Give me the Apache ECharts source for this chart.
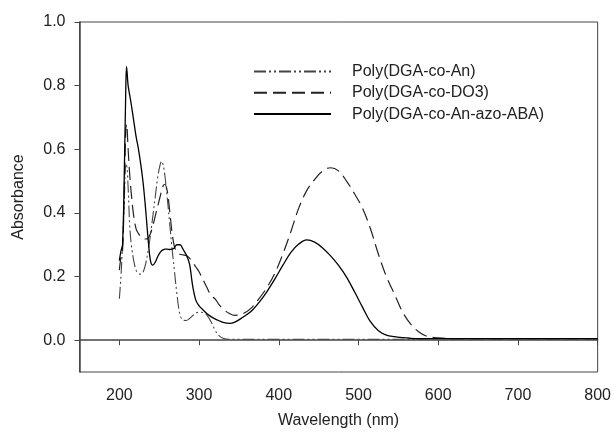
<!DOCTYPE html>
<html>
<head>
<meta charset="utf-8">
<script src="https://cdn.jsdelivr.net/npm/echarts@6/dist/echarts.min.js"></script>
<style>
  html, body { margin: 0; padding: 0; background: #fff; }
  #chart { width: 614px; height: 434px; }
</style>
</head>
<body>
<div id="chart"></div>
<script>
// wavelength (nm) sample points shared by the three spectra
var wavelength = [200, 202, 204, 206, 208, 209, 211, 213, 215, 218, 221, 224, 227, 230, 233, 236, 239, 242, 245, 248,
  251, 253, 255, 257, 260, 263, 266, 269, 272, 276, 280, 284, 288, 292, 296, 300, 305, 310, 315, 320,
  325, 330, 338, 345, 355, 365, 375, 385, 395, 405, 415, 425, 435, 445, 455, 465, 475, 485, 495, 505,
  515, 525, 535, 545, 555, 565, 575, 585, 600, 620, 650, 700, 750, 800];

// Poly(DGA-co-An)
var polyAn = [0.13, 0.20, 0.30, 0.42, 0.55, 0.55, 0.48, 0.36, 0.30, 0.25, 0.22, 0.21, 0.207, 0.215, 0.24, 0.28, 0.33, 0.39, 0.45, 0.51,
  0.55, 0.563, 0.55, 0.52, 0.45, 0.37, 0.29, 0.22, 0.15, 0.08, 0.063, 0.062, 0.068, 0.077, 0.085, 0.088, 0.087, 0.078, 0.058, 0.032,
  0.014, 0.006, 0.003, 0.003, 0.003, 0.003, 0.003, 0.003, 0.003, 0.003, 0.003, 0.003, 0.003, 0.003, 0.003, 0.003, 0.003, 0.003, 0.003, 0.003,
  0.003, 0.003, 0.003, 0.003, 0.003, 0.003, 0.004, 0.004, 0.005, 0.005, 0.005, 0.005, 0.005, 0.005];

// Poly(DGA-co-DO3)
var polyDO3 = [0.22, 0.26, 0.28, 0.45, 0.66, 0.68, 0.60, 0.52, 0.46, 0.39, 0.35, 0.335, 0.325, 0.32, 0.318, 0.32, 0.335, 0.36, 0.39, 0.42,
  0.45, 0.47, 0.485, 0.49, 0.47, 0.41, 0.34, 0.295, 0.278, 0.27, 0.268, 0.266, 0.258, 0.245, 0.23, 0.215, 0.19, 0.165, 0.14, 0.13,
  0.112, 0.098, 0.084, 0.078, 0.083, 0.10, 0.13, 0.165, 0.21, 0.27, 0.34, 0.415, 0.47, 0.505, 0.532, 0.542, 0.532, 0.50, 0.46, 0.415,
  0.35, 0.27, 0.20, 0.145, 0.09, 0.052, 0.027, 0.013, 0.007, 0.005, 0.005, 0.005, 0.005, 0.005];

// Poly(DGA-co-An-azo-ABA)
var polyAzo = [0.25, 0.28, 0.30, 0.50, 0.78, 0.86, 0.80, 0.77, 0.74, 0.69, 0.64, 0.60, 0.55, 0.49, 0.41, 0.32, 0.25, 0.236, 0.245, 0.262,
  0.275, 0.281, 0.284, 0.286, 0.286, 0.285, 0.286, 0.29, 0.30, 0.30, 0.285, 0.268, 0.24, 0.17, 0.125, 0.108, 0.095, 0.083, 0.074, 0.067,
  0.061, 0.056, 0.053, 0.057, 0.072, 0.09, 0.118, 0.152, 0.192, 0.235, 0.275, 0.302, 0.315, 0.308, 0.29, 0.265, 0.235, 0.198, 0.152, 0.104,
  0.058, 0.03, 0.016, 0.011, 0.008, 0.006, 0.005, 0.005, 0.005, 0.005, 0.005, 0.005, 0.005, 0.005];

var xTicks = [200, 300, 400, 500, 600, 700, 800];
var yTicks = [0, 0.2, 0.4, 0.6, 0.8, 1.0];

function pairs(ys) {
  return wavelength.map(function (x, i) { return [x, ys[i]]; });
}

var font = 'Liberation Sans, Arial, sans-serif';
var myChart = echarts.init(document.getElementById('chart'));
var option = {
  animation: false,
  backgroundColor: '#fff',
  grid: {
    left: 79.5, right: 16, top: 22, bottom: 62,
    show: true, borderColor: '#444', borderWidth: 1
  },
  legend: {
    orient: 'vertical',
    left: 253, top: 63.5, padding: 0,
    itemWidth: 77, itemHeight: 14, itemGap: 5.3,
    itemStyle: { opacity: 0 },
    textStyle: { fontFamily: font, fontSize: 16, color: '#222', padding: [0, 0, 0, 16] },
    data: ['Poly(DGA-co-An)', 'Poly(DGA-co-DO3)', 'Poly(DGA-co-An-azo-ABA)']
  },
  xAxis: {
    type: 'value',
    min: 150, max: 800,
    name: 'Wavelength (nm)',
    nameLocation: 'middle', nameGap: 41,
    nameTextStyle: { fontFamily: font, fontSize: 16, color: '#222' },
    axisLine: { lineStyle: { color: '#444', width: 1.5 } },
    axisTick: { show: true, length: 5, inside: false, customValues: xTicks, lineStyle: { color: '#444' } },
    axisLabel: { customValues: xTicks, margin: 15.5, fontFamily: font, fontSize: 16, color: '#222' },
    splitLine: { show: false }
  },
  yAxis: {
    type: 'value',
    min: -0.1, max: 1.0,
    name: 'Absorbance',
    nameLocation: 'middle', nameGap: 53,
    nameTextStyle: { fontFamily: font, fontSize: 16, color: '#222' },
    axisLine: { show: true, lineStyle: { color: '#444', width: 1.5 } },
    axisTick: { show: true, length: 5, inside: false, customValues: yTicks, lineStyle: { color: '#444' } },
    axisLabel: {
      customValues: yTicks, margin: 14, fontFamily: font, fontSize: 16, color: '#222',
      formatter: function (v) { return v.toFixed(1); }
    },
    splitLine: { show: false }
  },
  series: [
    {
      name: 'Poly(DGA-co-An)', type: 'line', data: pairs(polyAn),
      symbol: 'none', smooth: 0.35,
      lineStyle: { color: '#444', width: 1.1, type: [12, 3, 2, 3, 2, 3] },
      itemStyle: { color: '#444' }
    },
    {
      name: 'Poly(DGA-co-DO3)', type: 'line', data: pairs(polyDO3),
      symbol: 'none', smooth: 0.35,
      lineStyle: { color: '#222', width: 1.2, type: [13, 6] },
      itemStyle: { color: '#222' }
    },
    {
      name: 'Poly(DGA-co-An-azo-ABA)', type: 'line', data: pairs(polyAzo),
      symbol: 'none', smooth: 0.35,
      lineStyle: { color: '#000', width: 1.3, type: 'solid' },
      itemStyle: { color: '#000' }
    }
  ]
};
myChart.setOption(option);
</script>
</body>
</html>
